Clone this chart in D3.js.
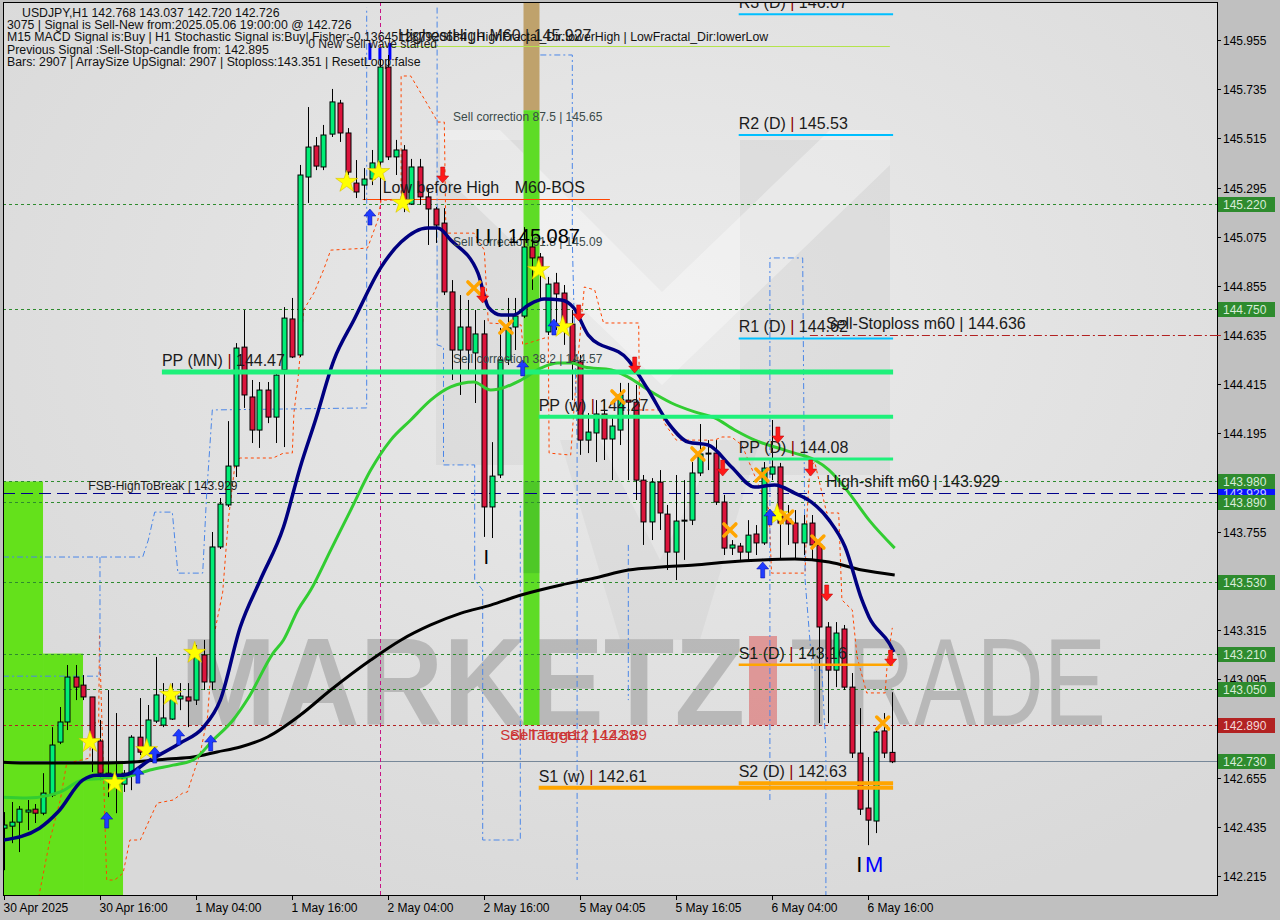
<!DOCTYPE html>
<html><head><meta charset="utf-8">
<script src="https://cdn.jsdelivr.net/npm/d3@7/dist/d3.min.js"></script>
<style>
html,body{margin:0;padding:0;background:#c0c0c0;}
svg{display:block;font-family:"Liberation Sans",Arial,sans-serif;}
</style></head><body>
<svg id="chart" width="1280" height="920"></svg>
<script>
// ---------------- DATA ----------------
const openP=[142.429,142.438,142.456,142.501,142.514,142.496,142.577,142.814,142.904,143.105,143.069,143.016,142.819,142.675,142.653,142.626,142.675,142.836,142.787,142.908,142.890,142.917,143.007,143.016,143.002,143.204,143.083,143.687,143.875,144.049,144.581,144.358,144.210,144.389,144.268,144.479,144.707,144.546,145.342,145.481,145.387,145.534,145.673,145.539,145.315,145.306,145.333,145.409,145.834,145.432,145.463,145.221,145.387,145.253,145.199,145.136,144.828,144.568,144.671,144.555,144.640,143.866,144.009,144.523,144.671,144.720,145.029,144.984,144.649,144.868,144.823,144.684,144.515,144.165,144.197,144.282,144.170,144.210,144.344,144.335,143.986,143.799,143.977,143.834,143.664,143.803,143.807,144.018,144.103,144.107,143.888,143.682,143.691,143.664,143.745,143.705,144.013,144.045,143.812,143.794,143.705,143.794,143.696,143.329,143.136,143.320,143.060,142.765,142.519,142.461,142.864,142.768];
const highP=[142.501,142.546,142.528,142.555,142.537,142.675,142.881,142.971,143.159,143.159,143.114,143.016,142.913,143.047,142.944,142.689,142.845,143.011,142.980,143.195,143.078,143.078,143.078,143.078,143.248,143.271,143.754,143.906,144.250,144.599,144.747,144.434,144.425,144.425,144.479,144.760,144.801,145.396,145.655,145.521,145.575,145.736,145.687,145.561,145.418,145.382,145.463,145.866,145.888,145.508,145.485,145.423,145.423,145.293,145.208,145.203,144.881,144.814,144.792,144.747,144.702,144.156,144.667,144.801,144.801,145.118,145.083,145.002,144.895,144.913,144.859,144.747,144.546,144.286,144.344,144.344,144.277,144.421,144.421,144.412,144.009,143.995,144.031,143.875,144.009,143.986,144.067,144.237,144.165,144.165,143.920,143.718,143.705,143.807,143.785,144.067,144.255,144.063,143.875,143.852,143.830,143.830,143.718,143.351,143.351,143.338,143.123,142.966,142.747,142.868,142.944,143.037];
const lowP=[142.241,142.362,142.322,142.420,142.452,142.487,142.568,142.805,142.868,143.002,143.002,142.680,142.644,142.568,142.496,142.591,142.599,142.756,142.778,142.899,142.881,142.913,142.957,142.881,142.980,143.047,143.047,143.678,143.866,144.000,144.309,144.152,144.130,144.241,144.152,144.134,144.532,144.537,145.226,145.373,145.373,145.521,145.499,145.351,145.248,145.239,145.306,145.239,145.418,145.351,145.185,145.217,145.217,145.038,145.047,144.814,144.434,144.367,144.470,144.331,143.732,143.727,143.995,144.501,144.568,144.711,144.837,144.792,144.635,144.658,144.591,144.344,144.099,144.107,144.067,144.076,143.986,144.143,143.986,143.897,143.696,143.718,143.763,143.584,143.539,143.629,143.785,144.004,144.031,143.875,143.651,143.651,143.629,143.629,143.651,143.696,143.986,143.629,143.696,143.629,143.651,143.629,142.899,142.899,143.060,143.047,142.743,142.488,142.353,142.407,142.743,142.720];
const closeP=[142.443,142.456,142.514,142.510,142.496,142.586,142.801,142.904,143.105,143.060,143.016,142.823,142.675,142.662,142.666,142.675,142.836,142.769,142.913,143.025,142.922,143.025,143.020,142.998,143.195,143.083,143.687,143.879,144.049,144.577,144.367,144.210,144.389,144.268,144.456,144.711,144.537,145.351,145.476,145.391,145.530,145.678,145.539,145.364,145.275,145.333,145.405,145.834,145.432,145.463,145.230,145.387,145.253,145.199,145.127,144.828,144.568,144.671,144.568,144.640,143.866,144.004,144.523,144.667,144.720,145.029,144.980,144.935,144.863,144.819,144.680,144.515,144.165,144.201,144.282,144.170,144.228,144.367,144.335,143.986,143.799,143.977,143.839,143.664,143.803,143.807,144.018,144.103,144.107,143.888,143.682,143.696,143.664,143.740,143.705,144.040,144.045,143.794,143.790,143.705,143.790,143.696,143.329,143.136,143.302,143.060,142.765,142.514,142.465,142.859,142.765,142.726];

const xTickBars=[0,12,24,36,48,60,72,84,96,108];
const xTickLabels=["30 Apr 2025","30 Apr 16:00","1 May 04:00","1 May 16:00","2 May 04:00","2 May 16:00","5 May 04:05","5 May 16:05","6 May 04:00","6 May 16:00"];
const yTickValues=[145.955,145.735,145.515,145.295,145.075,144.855,144.635,144.415,144.195,143.975,143.755,143.535,143.315,143.095,142.875,142.655,142.435,142.215];

const greenLevels=[145.220,144.750,143.980,143.890,143.530,143.210,143.050];
const redLevel=142.890, lastLevel=142.730, fsbLevel=143.929, stopLevel=144.636, highestHigh=145.927, lowBeforeHigh=145.244;

const pivotNames=["R3 (D)","R2 (D)","R1 (D)","PP (D)","S1 (D)","S2 (D)","PP (MN)","PP (w)","S1 (w)"];
const pivotValues=[146.07,145.53,144.62,144.08,143.16,142.63,144.47,144.27,142.61];
const pivotStartBars=[91.9,91.9,91.9,91.9,91.9,91.9,19.8,66.9,66.9];
const pivotEndBar=111.2;

const maFastBars=[0,4.5,6.8,9.9,11.7,15,18.3,22.1,25,27.1,29.6,32.1,35,37.1,39,41.3,43.8,47.2,49.7,53,54.3,55.9,59.3,60.6,62.2,63.8,65.6,67.6,69.7,71.3,73.1,78.1,80.6,83.1,85.6,88.1,91,93.9,96.4,98.9,101,103.2,105.2,107.3,108.2,110.7,111.3];
const maFastVals=[142.376,142.429,142.501,142.644,142.666,142.666,142.734,142.810,142.881,143.002,143.329,143.539,143.776,144.045,144.255,144.523,144.702,144.939,145.051,145.114,145.114,145.060,144.913,144.760,144.725,144.725,144.769,144.796,144.792,144.756,144.635,144.523,144.389,144.241,144.156,144.143,144.045,143.955,143.964,143.928,143.888,143.807,143.687,143.450,143.373,143.257,143.217];
const maMidBars=[-0.5,2.9,5.8,7.1,9.9,13.3,16.2,18.3,21.2,23.7,26.2,28.7,30.6,33.7,35.0,36.8,38.4,40.9,43.4,45.9,48.4,50.9,53.4,55.9,58.8,60.9,64.7,67.2,69.3,71.0,72.6,76.0,78.1,80.6,83.5,86.4,88.9,91.4,93.9,96.4,98.9,101.4,103.2,105.7,108.2,111.4];
const maMidVals=[142.568,142.564,142.577,142.591,142.644,142.653,142.666,142.689,142.711,142.734,142.823,142.913,143.011,143.212,143.271,143.405,143.494,143.673,143.852,144.031,144.165,144.255,144.344,144.403,144.425,144.389,144.434,144.488,144.510,144.510,144.492,144.479,144.447,144.389,144.331,144.291,144.264,144.210,144.165,144.134,144.107,144.076,144.031,143.928,143.807,143.682];
const maSlowBars=[-0.5,3.7,7.9,12.1,16.2,20.5,23.7,26.7,29.6,33.0,37.1,40.9,45.9,49.7,53.4,57.2,60.9,64.7,69.7,73.9,78.1,82.2,86.4,90.6,94.8,98.9,103.2,107.3,111.4];
const maSlowVals=[142.725,142.720,142.720,142.720,142.725,142.738,142.747,142.770,142.792,142.837,142.935,143.047,143.181,143.271,143.338,143.391,143.427,143.472,143.517,143.548,143.584,143.597,143.606,143.620,143.629,143.633,143.620,143.584,143.562];

const orangeShort=[[4.4,142.121],[5.8,142.376],[7.1,142.555],[7.9,142.720],[9.8,142.734],[10.8,142.743],[10.9,142.900],[11.9,142.900],[12.0,143.300]];
const orangeLong=[[12.1,143.150],[12.9,142.197],[13.9,142.197],[14.95,142.228],[15.8,142.376],[17.1,142.376],[19.2,142.541],[21.2,142.555],[22.4,142.586],[23.0,142.591],[23.6,142.658],[24.6,142.765],[25.5,142.926],[26.2,143.271],[27.4,143.485],[28.1,143.807],[29.0,144.076],[29.6,144.085],[33.7,144.085],[35.0,144.107],[36.1,144.107],[36.3,144.286],[36.8,144.434],[37.1,144.555],[37.5,144.747],[38.8,144.823],[40.0,144.926],[40.9,145.015],[45.5,145.024],[46.8,145.150],[47.2,145.239],[49.7,145.239],[49.7,145.794],[50.9,145.794],[54.3,145.588],[55.1,145.588],[55.3,145.091],[58.8,145.091],[60.1,145.015],[60.6,144.689],[64.7,144.680],[64.9,144.591],[68.1,144.627],[68.2,144.107],[70.9,144.098],[71.6,144.447],[72.6,144.850],[73.9,144.837],[75.0,144.689],[79.4,144.689],[79.5,144.300],[82.2,144.300],[82.6,144.241],[84.1,144.165],[88.9,144.165],[89.8,144.179],[91.0,144.179],[92.3,144.143],[95.7,143.852],[96.0,143.570],[100.2,143.570],[100.4,143.807],[100.8,144.045],[101.4,144.067],[102.9,143.839],[104.4,143.839],[104.8,143.450],[106.1,143.405],[106.7,143.195],[107.9,143.034],[110.2,143.034],[110.5,143.181],[111.1,143.325]];
const blueLines=[
 [[-0.06,143.109],[12.06,143.109],[12.06,143.642]],
 [[-0.06,143.642],[17.4,143.642],[18.1,143.718],[18.9,143.843],[21.1,143.843],[21.8,143.570],[24.9,143.570],[25.4,143.928],[26.1,144.300],[45.4,144.309],[45.4,146.10]],
 [[54.2,146.10],[54.2,144.591],[55.0,144.582],[55.0,144.054],[58.9,144.054],[58.9,143.539],[59.9,143.494],[59.9,142.376],[64.6,142.376],[64.6,143.875]],
 [[67.1,145.888],[71.1,145.888],[71.1,145.060],[71.7,144.165],[71.7,142.197]],
 [[78.1,143.696],[78.1,143.002]],
 [[95.8,142.555],[95.8,144.980],[99.9,144.980],[100.2,143.539],[101.1,143.136],[102.3,143.136],[102.8,142.778],[102.8,142.10]]
];

const fillStartBars=[-0.06,4.94,9.94], fillEndBars=[4.94,9.94,14.94], fillTopPrices=[143.98,143.21,142.73];
const bandStartBar=65.0, bandEndBar=67.0, bandSplitPrice=145.65, bandBottomPrice=142.89;
const magentaBar=47.0;
const topMarkBars=[45.8,47.05,48.3], topMarkHigh=[145.942,145.919,145.942], topMarkLow=[145.866,145.866,145.866];

const starPts=[[10.8,142.814],[13.9,142.631],[17.9,142.778],[20.9,143.025],[23.9,143.213],[42.9,145.320],[46.9,145.364],[49.9,145.226],[66.9,144.926],[69.9,144.671],[96.7,143.830]];
const crossPts=[[58.8,144.846],[62.8,144.671],[76.8,144.358],[86.8,144.103],[90.8,143.763],[94.8,144.009],[97.9,143.821],[101.8,143.709],[109.9,142.899]];
const upPts=[[12.9,142.465],[16.8,142.666],[18.9,142.756],[21.9,142.837],[25.9,142.810],[45.8,145.163],[64.9,144.488],[68.8,144.671],[94.9,143.584],[95.8,143.821]];
const downPts=[[54.9,145.351],[59.9,144.814],[71.9,144.734],[78.9,144.501],[89.9,144.040],[96.8,144.188],[100.9,144.040],[102.9,143.481],[110.9,143.190]];

const infoLines=["USDJPY,H1  142.768 143.037 142.720 142.726",
"3075 | Signal is Sell-New from:2025.05.06 19:00:00 @ 142.726",
"M15 MACD Signal is:Buy | H1 Stochastic Signal is:Buy| Fisher:-0.136451287920684 | HighFractal_Dir:lowerHigh | LowFractal_Dir:lowerLow",
"Previous Signal :Sell-Stop-candle from: 142.895",
"Bars: 2907 | ArraySize UpSignal: 2907 | Stoploss:143.351 | ResetLoop:false"];

// annotations: text, bar, price
const annoTexts=["HighestHigh    M60 | 145.927","0 New Sell wave started","Sell correction 87.5 | 145.65","Sell correction 61.8 | 145.09","Sell correction 38.2 | 144.57","Low before High","M60-BOS","I I | 145.087","FSB-HighToBreak | 143.929","High-shift m60 | 143.929","Sell-Stoploss m60 | 144.636","Sell Target1 | 142.89","Sell Target2 | 142.89","I"];
const annoBars=[49.3,38.1,56.2,56.2,56.2,47.4,63.9,58.9,10.6,102.8,102.8,62.1,63.3,60.0];
const annoPrices=[145.927,145.927,145.65,145.09,144.57,145.244,145.244,145.087,143.929,143.929,144.636,142.89,142.89,143.61];

// ---------------- STYLE / LAYOUT ----------------
const annoStyle=[
 {dy:-5,size:16,fill:"#222"},{dy:2,size:12,fill:"#222"},
 {dy:13,size:12,fill:"#3a4a4a"},{dy:13,size:12,fill:"#3a4a4a"},{dy:13,size:12,fill:"#3a4a4a"},
 {dy:-6,size:16,fill:"#1a1a1a"},{dy:-6,size:16,fill:"#1a1a1a"},{dy:9,size:20,fill:"#000"},
 {dy:-3,size:12,fill:"#1a1a1a"},{dy:-6,size:16,fill:"#1a1a1a"},{dy:-6,size:16,fill:"#1a1a1a"},
 {dy:15,size:15,fill:"#cc3333"},{dy:15,size:15,fill:"#cc3333"},{dy:0,size:20,fill:"#000"}];
const pivotStyle=[
 {c:"#00bfff",w:2},{c:"#00bfff",w:2},{c:"#00bfff",w:2},{c:"#1ef07a",w:3},{c:"#ffa500",w:2.5},{c:"#ffa500",w:4},
 {c:"#1ef07a",w:5},{c:"#1ef07a",w:4},{c:"#ffa500",w:4}];

const PL=3, PT=2, PR=1217, PB=895;
const svg=d3.select("#chart");
const x=d3.scaleLinear().domain([0,152]).range([3.5,3.5+8*152]);
const y=d3.scaleLinear().domain([142.215,145.955]).range([876,40]);

svg.append("rect").attr("width",1280).attr("height",920).attr("fill","#c0c0c0");
const defs=svg.append("defs");
defs.append("clipPath").attr("id","clip").append("rect").attr("x",PL).attr("y",PT).attr("width",PR-PL).attr("height",PB-PT);
const grad=defs.append("radialGradient").attr("id","bg").attr("cx","55%").attr("cy","35%").attr("r","70%");
grad.append("stop").attr("offset","0%").attr("stop-color","#ebebeb");
grad.append("stop").attr("offset","100%").attr("stop-color","#d9d9d9");

const g=svg.append("g").attr("clip-path","url(#clip)");
g.append("rect").attr("x",PL).attr("y",PT).attr("width",PR-PL).attr("height",PB-PT).attr("fill","url(#bg)");

// logo shading (decorative)
const logo=g.append("g");
logo.append("rect").attr("x",436).attr("y",140).attr("width",87).attr("height",325).attr("fill","#000").attr("opacity",0.04);
logo.append("rect").attr("x",740).attr("y",140).attr("width",150).attr("height",335).attr("fill","#000").attr("opacity",0.04);
logo.append("polygon").attr("points","440,130 500,130 662,292 830,130 890,130 890,165 662,385 440,172").attr("fill","#fff").attr("opacity",0.35);
logo.append("polygon").attr("points","560,440 600,440 660,560 720,440 760,440 700,640 620,640").attr("fill","#000").attr("opacity",0.03);

// watermark
const wm=g.append("g");
wm.append("text").attr("x",180).attr("y",725).attr("font-size",124).attr("font-weight","bold").attr("fill","#b2b2b2").attr("opacity",0.85)
  .attr("textLength",565).attr("lengthAdjust","spacingAndGlyphs").text("MARKETZ");
wm.append("rect").attr("x",749).attr("y",636).attr("width",28).attr("height",89).attr("fill","#dd8a8a").attr("opacity",0.85);
wm.append("text").attr("x",790).attr("y",725).attr("font-size",124).attr("fill","#b2b2b2").attr("opacity",0.85)
  .attr("textLength",316).attr("lengthAdjust","spacingAndGlyphs").text("TRADE");

// left green fills
g.selectAll("rect.fill").data(fillTopPrices).join("rect").attr("class","fill")
  .attr("x",(d,i)=>x(fillStartBars[i])).attr("width",(d,i)=>x(fillEndBars[i])-x(fillStartBars[i]))
  .attr("y",d=>y(d)).attr("height",d=>PB-y(d)).attr("fill","#64e11b");

// vertical band
g.append("rect").attr("x",x(bandStartBar)).attr("width",x(bandEndBar)-x(bandStartBar)).attr("y",PT).attr("height",y(bandSplitPrice)+2-PT).attr("fill","#bfa26c");
g.append("rect").attr("x",x(bandStartBar)).attr("width",x(bandEndBar)-x(bandStartBar)).attr("y",y(bandSplitPrice)+2).attr("height",y(bandBottomPrice)-y(bandSplitPrice)-2).attr("fill","#5edc26");
g.append("rect").attr("x",x(bandStartBar)).attr("width",x(bandEndBar)-x(bandStartBar)).attr("y",y(143.98)).attr("height",y(143.57)-y(143.98)).attr("fill","#2a9a2a").attr("opacity",0.3);

// horizontal levels
function hline(p,color,dash,x1,x2,w){
  g.append("line").attr("x1",x1).attr("x2",x2).attr("y1",Math.round(y(p))+0.5).attr("y2",Math.round(y(p))+0.5)
   .attr("stroke",color).attr("stroke-width",w||1).attr("stroke-dasharray",dash);
}
greenLevels.forEach(p=>hline(p,"#2e8b2e","3,3",PL,PR));
hline(redLevel,"#b22222","3,3",PL,PR);
hline(lastLevel,"#778899",null,PL,PR);
hline(fsbLevel,"#00008b","12,6",PL,PR);
hline(stopLevel,"#b22222","8,3,2,3",x(100.8),PR);
hline(highestHigh,"#b4e44c",null,x(47.1),x(110.8));
hline(lowBeforeHigh,"#ff4500",null,x(44.9),x(75.8));
g.append("line").attr("x1",Math.round(x(magentaBar))+0.5).attr("x2",Math.round(x(magentaBar))+0.5).attr("y1",PT).attr("y2",PB)
  .attr("stroke","#c71585").attr("stroke-dasharray","4,3");

// stepped indicator lines
const ptLine=d3.line().x(d=>x(d[0])).y(d=>y(d[1]));
[orangeShort,orangeLong].forEach(a=>g.append("path").attr("d",ptLine(a)).attr("fill","none").attr("stroke","#ff4500").attr("stroke-dasharray","3,3"));
blueLines.forEach(a=>g.append("path").attr("d",ptLine(a)).attr("fill","none").attr("stroke","#4a86e8").attr("stroke-dasharray","6,3,2,3"));

// top marks
g.selectAll("rect.tm").data(topMarkBars).join("rect").attr("class","tm")
  .attr("x",d=>x(d)-1.5).attr("width",3).attr("y",(d,i)=>y(topMarkHigh[i])).attr("height",(d,i)=>y(topMarkLow[i])-y(topMarkHigh[i])).attr("fill","#0000ff");

// candles
const idx=d3.range(openP.length);
const cg=g.append("g");
cg.selectAll("line.wick").data(idx).join("line").attr("class","wick")
  .attr("x1",i=>Math.round(x(i))+0.5).attr("x2",i=>Math.round(x(i))+0.5)
  .attr("y1",i=>y(highP[i])).attr("y2",i=>y(lowP[i])).attr("stroke","#000").attr("stroke-width",1);
cg.selectAll("rect.body").data(idx).join("rect").attr("class","body")
  .attr("x",i=>Math.round(x(i))-2).attr("width",5)
  .attr("y",i=>y(Math.max(openP[i],closeP[i])))
  .attr("height",i=>Math.max(1,y(Math.min(openP[i],closeP[i]))-y(Math.max(openP[i],closeP[i]))))
  .attr("fill",i=>closeP[i]>=openP[i]?"#00ee76":"#dc143c").attr("stroke","#000").attr("stroke-width",1);

// moving averages
const maLine=d3.line().curve(d3.curveMonotoneX).x(d=>x(d[0])).y(d=>y(d[1]));
g.append("path").attr("d",maLine(maSlowBars.map((b,i)=>[b,maSlowVals[i]]))).attr("fill","none").attr("stroke","#000").attr("stroke-width",3);
g.append("path").attr("d",maLine(maMidBars.map((b,i)=>[b,maMidVals[i]]))).attr("fill","none").attr("stroke","#32cd32").attr("stroke-width",3);
g.append("path").attr("d",maLine(maFastBars.map((b,i)=>[b,maFastVals[i]]))).attr("fill","none").attr("stroke","#000080").attr("stroke-width",3.5);

// pivots
pivotValues.forEach((v,i)=>{
  const st=pivotStyle[i];
  g.append("line").attr("x1",x(pivotStartBars[i])).attr("x2",x(pivotEndBar)).attr("y1",y(v)).attr("y2",y(v))
   .attr("stroke",st.c).attr("stroke-width",st.w);
});
pivotValues.forEach((v,i)=>{
  const t=g.append("text").attr("x",x(pivotStartBars[i])).attr("y",y(v)-6).attr("font-size",16).attr("fill","#1b1b1b");
  t.append("tspan").text(pivotNames[i]+" ");
  t.append("tspan").attr("fill","#8b0000").text("|");
  t.append("tspan").text(" "+v.toFixed(2));
});

// markers
const mg=g.append("g");
mg.selectAll("path.star").data(starPts).join("path").attr("class","star")
  .attr("transform",d=>`translate(${x(d[0])},${y(d[1])})`).attr("d",d3.symbol(d3.symbolStar,150)())
  .attr("fill","#ffff00").attr("stroke","#d8c000").attr("stroke-width",0.6);
mg.selectAll("path.cross").data(crossPts).join("path").attr("class","cross")
  .attr("transform",d=>`translate(${x(d[0])},${y(d[1])})`).attr("d","M-6,-6L6,6M-6,6L6,-6")
  .attr("stroke","#ffa500").attr("stroke-width",3.5).attr("stroke-linecap","round");
mg.selectAll("path.up").data(upPts).join("path").attr("class","up")
  .attr("transform",d=>`translate(${x(d[0])},${y(d[1])})`).attr("d","M0,-8L6,-1L2,-1L2,8L-2,8L-2,-1L-6,-1Z")
  .attr("fill","#1f3cff").attr("stroke","#0000a0").attr("stroke-width",0.5);
mg.selectAll("path.down").data(downPts).join("path").attr("class","down")
  .attr("transform",d=>`translate(${x(d[0])},${y(d[1])})`).attr("d","M0,8L6,1L2,1L2,-8L-2,-8L-2,1L-6,1Z")
  .attr("fill","#ff1a1a").attr("stroke","#b00000").attr("stroke-width",0.5);

// annotations
annoTexts.forEach((t,i)=>{
  const s=annoStyle[i];
  g.append("text").attr("x",x(annoBars[i])).attr("y",y(annoPrices[i])+s.dy).attr("font-size",s.size).attr("fill",s.fill).text(t);
});
g.append("text").attr("x",x(106.6)).attr("y",y(142.232)).attr("font-size",22).attr("fill","#000").text("I");
g.append("text").attr("x",x(107.7)).attr("y",y(142.232)).attr("font-size",22).attr("fill","#0000ff").text("M");

// info text
infoLines.forEach((t,i)=>{
  g.append("text").attr("x",i===0?22:7).attr("y",17+i*12.2).attr("font-size",12.3).attr("fill","#111").text(t);
});

// border
svg.append("rect").attr("x",PL+0.5).attr("y",PT+0.5).attr("width",PR-PL).attr("height",PB-PT).attr("fill","none").attr("stroke","#000");

// right axis
const ax=svg.append("g");
yTickValues.forEach(v=>{
  const yy=Math.round(y(v))+0.5;
  ax.append("line").attr("x1",PR).attr("x2",PR+4).attr("y1",yy).attr("y2",yy).attr("stroke","#000");
  ax.append("text").attr("x",PR+6).attr("y",yy+4.5).attr("font-size",12).attr("fill","#000").text(v.toFixed(3));
});
ax.append("line").attr("x1",PR).attr("x2",PR+4).attr("y1",Math.round(y(stopLevel))+0.5).attr("y2",Math.round(y(stopLevel))+0.5).attr("stroke","#b22222");
function box(v,bg,fg){
  const yy=Math.round(y(v));
  ax.append("rect").attr("x",PR+1).attr("y",yy-7).attr("width",57).attr("height",15).attr("fill",bg);
  ax.append("text").attr("x",PR+6).attr("y",yy+4.5).attr("font-size",12).attr("fill",fg).text(v.toFixed(3));
}
box(fsbLevel,"#0a14ff","#c8d0ff");
greenLevels.forEach(v=>box(v,"#2e8b2e","#d8ecd8"));
box(redLevel,"#b22222","#f2d8d8");
box(lastLevel,"#2e8b2e","#d8ecd8");

// bottom axis
xTickBars.forEach((b,i)=>{
  const xx=Math.round(x(b))+0.5;
  ax.append("line").attr("x1",xx).attr("x2",xx).attr("y1",PB).attr("y2",PB+5).attr("stroke","#000");
  ax.append("text").attr("x",xx-1).attr("y",PB+17).attr("font-size",12).attr("fill","#000").text(xTickLabels[i]);
});
</script>
</body></html>
